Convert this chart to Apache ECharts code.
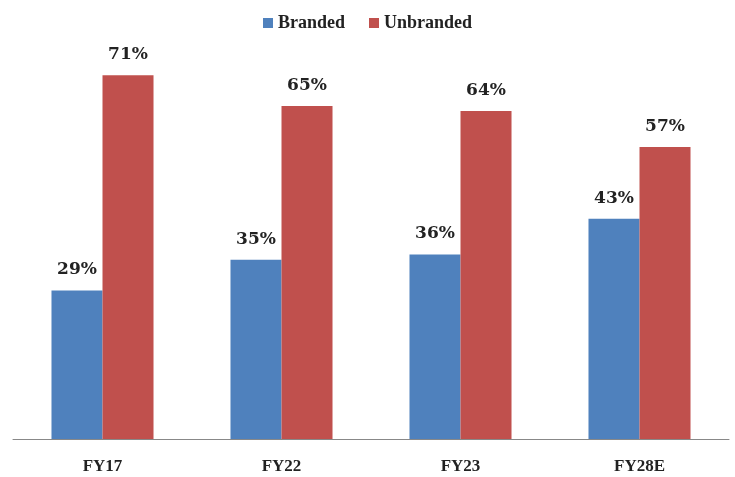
<!DOCTYPE html>
<html>
<head>
<meta charset="utf-8">
<script src="https://cdn.jsdelivr.net/npm/echarts@6/dist/echarts.min.js"></script>
<style>
  html, body { margin: 0; padding: 0; background: #fff; }
  #main { width: 735px; height: 477px; }
</style>
</head>
<body>
<div id="main"></div>
<script>
const categories = ['FY17', 'FY22', 'FY23', 'FY28E'];
const branded = [29, 35, 36, 43];
const unbranded = [71, 65, 64, 57];

const FONT = '"Liberation Serif", "DejaVu Serif", serif';
const LABEL_FONT = '"DejaVu Serif", serif';

let mainchart = echarts.init(document.getElementById('main'));
let chart_config = {
    animation: false,
    backgroundColor: '#fff',
    legend: {
        data: ['Branded', 'Unbranded'],
        top: 9,
        left: 'center',
        itemWidth: 10,
        itemHeight: 10,
        itemGap: 24,
        icon: 'rect',
        textStyle: { fontFamily: FONT, fontWeight: 'bold', fontSize: 18, color: '#222' }
    },
    grid: { left: 13, right: 6, top: 29, bottom: 38 },
    xAxis: {
        type: 'category',
        data: categories,
        axisTick: { show: false },
        axisLine: { lineStyle: { color: '#888', width: 1 } },
        axisLabel: { margin: 19, fontFamily: FONT, fontWeight: 'bold', fontSize: 17, color: '#222' }
    },
    yAxis: {
        type: 'value',
        min: 0,
        max: 80,
        show: false
    },
    series: [
        {
            name: 'Branded',
            type: 'bar',
            data: branded,
            barGap: '0%',
            barCategoryGap: '43%',
            itemStyle: { color: '#4F81BD' },
            label: {
                show: true, position: 'top', distance: 12, formatter: '{c}%',
                fontFamily: LABEL_FONT, fontWeight: 'bold', fontSize: 17, color: '#222'
            }
        },
        {
            name: 'Unbranded',
            type: 'bar',
            data: unbranded,
            itemStyle: { color: '#C0504D' },
            label: {
                show: true, position: 'top', distance: 12, formatter: '{c}%',
                fontFamily: LABEL_FONT, fontWeight: 'bold', fontSize: 17, color: '#222'
            }
        }
    ]
};
mainchart.setOption(chart_config);
</script>
</body>
</html>
